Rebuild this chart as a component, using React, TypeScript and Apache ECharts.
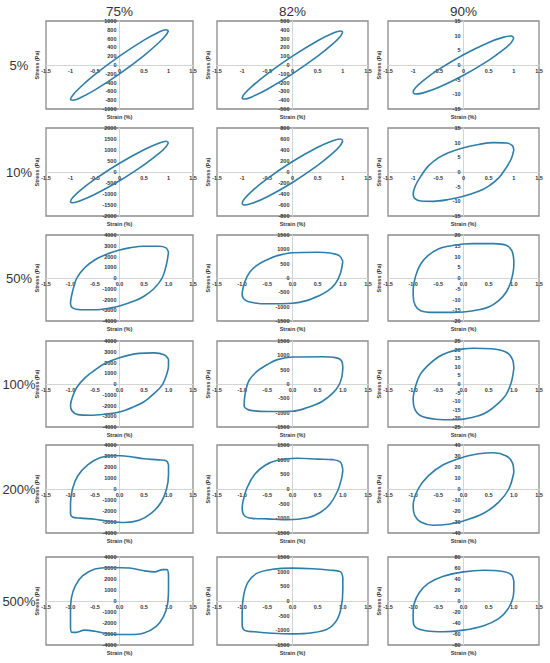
import React, { useEffect, useRef } from "react";
import * as echarts from "echarts";

// Column (solids %) and row (strain amplitude) labels
const colLabels = ["75%", "82%", "90%"];
const rowLabels = ["5%", "10%", "50%", "100%", "200%", "500%"];
const xTicksPlain = [true, true, false, false, false, false];

// y-axis ranges [max, step] per row, per column
const yMax75 = [1000, 2000, 4000, 4000, 4000, 4000];
const yStep75 = [200, 500, 1000, 1000, 1000, 1000];
const yMax82 = [500, 800, 1500, 1500, 1500, 1500];
const yStep82 = [100, 200, 500, 500, 500, 500];
const yMax90 = [15, 15, 20, 25, 40, 80];
const yStep90 = [5, 5, 5, 5, 10, 20];

// Lissajous loops [strain %, stress Pa]
const loop75_5 = [[1.0,780],[0.95,800],[0.8,745],[0.5,565],[0,200],[-0.5,-215],[-0.8,-505],[-0.95,-680],[-1.0,-780],[-0.95,-800],[-0.8,-745],[-0.5,-565],[0,-200],[0.5,215],[0.8,505],[0.95,680],[1.0,780]];
const loop82_5 = [[1.0,375],[0.95,387],[0.8,360],[0.5,275],[0,100],[-0.5,-100],[-0.8,-240],[-0.95,-325],[-1.0,-375],[-0.95,-387],[-0.8,-360],[-0.5,-275],[0,-100],[0.5,100],[0.8,240],[0.95,325],[1.0,375]];
const loop90_5 = [[1.0,9.2],[0.95,9.9],[0.8,9.5],[0.5,7.7],[0,3.5],[-0.5,-1.6],[-0.8,-5.3],[-0.95,-7.7],[-1.0,-9.2],[-0.95,-9.9],[-0.8,-9.5],[-0.5,-7.7],[0,-3.5],[0.5,1.6],[0.8,5.3],[0.95,7.7],[1.0,9.2]];

const loop75_10 = [[1.0,1340],[0.95,1400],[0.8,1310],[0.5,1015],[0,400],[-0.5,-325],[-0.8,-830],[-0.95,-1150],[-1.0,-1340],[-0.95,-1400],[-0.8,-1310],[-0.5,-1015],[0,-400],[0.5,325],[0.8,830],[0.95,1150],[1.0,1340]];
const loop82_10 = [[1.0,570],[0.95,600],[0.8,570],[0.5,450],[0,190],[-0.5,-120],[-0.8,-342],[-0.95,-482],[-1.0,-570],[-0.95,-600],[-0.8,-570],[-0.5,-450],[0,-190],[0.5,120],[0.8,342],[0.95,482],[1.0,570]];
const loop90_10 = [[1.0,7.5],[0.97,9.0],[0.85,9.9],[0.6,10.0],[0.3,9.4],[0,8.3],[-0.3,6.6],[-0.5,4.8],[-0.7,2.0],[-0.85,-1.5],[-0.95,-4.5],[-1.0,-7.5],[-0.97,-9.0],[-0.85,-9.9],[-0.6,-10.0],[-0.3,-9.4],[0,-8.3],[0.3,-6.6],[0.5,-4.8],[0.7,-2.0],[0.85,1.5],[0.95,4.5],[1.0,7.5]];

const loop75_50 = [[1.0,2400],[0.95,2800],[0.8,2950],[0.5,2950],[0.2,2800],[0,2600],[-0.3,2150],[-0.5,1700],[-0.7,1000],[-0.87,0],[-0.96,-1300],[-1.0,-2400],[-0.95,-2800],[-0.8,-2950],[-0.5,-2950],[-0.2,-2800],[0,-2600],[0.3,-2150],[0.5,-1700],[0.7,-1000],[0.87,0],[0.96,1300],[1.0,2400]];
const loop82_50 = [[1.0,580],[0.93,780],[0.75,870],[0.5,900],[0,880],[-0.3,780],[-0.5,640],[-0.7,450],[-0.85,200],[-0.95,-150],[-1.0,-580],[-0.93,-780],[-0.75,-870],[-0.5,-900],[0,-880],[0.3,-780],[0.5,-640],[0.7,-450],[0.85,-200],[0.95,150],[1.0,580]];
const loop90_50 = [[1.0,8],[0.96,12.7],[0.85,15.2],[0.6,16],[0.2,16],[0,15.8],[-0.3,14.8],[-0.5,13.5],[-0.7,10.5],[-0.85,6.5],[-0.95,1],[-1.0,-6],[-1.0,-8],[-0.96,-12.7],[-0.85,-15.2],[-0.6,-16],[-0.2,-16],[0,-15.8],[0.3,-14.8],[0.5,-13.5],[0.7,-10.5],[0.85,-6.5],[0.95,-1],[1.0,6],[1.0,8]];

const loop75_100 = [[1.0,2300],[0.92,2700],[0.7,2900],[0.4,2850],[0,2450],[-0.3,1900],[-0.5,1300],[-0.7,600],[-0.87,-300],[-0.96,-1200],[-1.0,-2000],[-0.97,-2500],[-0.85,-2850],[-0.6,-2900],[-0.3,-2800],[0,-2600],[0.3,-2100],[0.5,-1650],[0.7,-900],[0.87,-100],[0.97,1000],[1.0,1700],[1.0,2300]];
const loop82_100 = [[1.0,550],[0.97,820],[0.85,920],[0.6,950],[0,940],[-0.3,850],[-0.5,680],[-0.7,450],[-0.87,100],[-0.95,-450],[-0.96,-780],[-0.9,-880],[-0.8,-930],[-0.5,-960],[0,-950],[0.3,-820],[0.58,-620],[0.8,-320],[0.92,-50],[0.98,250],[1.0,550]];
const loop90_100 = [[1.0,9],[0.97,14.5],[0.85,18.5],[0.55,20.5],[0.2,20.8],[0,20.4],[-0.3,18.5],[-0.5,15.7],[-0.7,11],[-0.85,6],[-0.95,-1],[-1.0,-9],[-0.97,-14.5],[-0.85,-18.5],[-0.55,-20.5],[-0.2,-20.8],[0,-20.4],[0.3,-18.5],[0.5,-15.7],[0.7,-11],[0.85,-6],[0.95,1],[1.0,9]];

const loop75_200 = [[1.0,2200],[0.96,2550],[0.8,2650],[0.5,2750],[0.2,2950],[-0.1,3050],[-0.4,2850],[-0.65,2200],[-0.85,1200],[-0.96,0],[-1.0,-1300],[-1.0,-2200],[-0.96,-2550],[-0.8,-2650],[-0.5,-2750],[-0.2,-2950],[0.1,-3050],[0.4,-2850],[0.65,-2200],[0.85,-1200],[0.96,0],[1.0,1300],[1.0,2200]];
const loop82_200 = [[1.0,650],[0.95,920],[0.8,1000],[0.5,1020],[0.1,1050],[-0.3,980],[-0.55,800],[-0.75,500],[-0.9,50],[-0.98,-400],[-1.0,-650],[-0.95,-920],[-0.8,-1000],[-0.5,-1020],[-0.1,-1050],[0.3,-980],[0.55,-800],[0.75,-500],[0.9,-50],[0.98,400],[1.0,650]];
const loop90_200 = [[1.0,15],[0.97,24],[0.85,30],[0.6,33],[0.3,32],[0,29],[-0.4,22],[-0.7,12],[-0.9,0],[-1.0,-15],[-0.97,-24],[-0.85,-30],[-0.6,-33],[-0.3,-32],[0,-29],[0.4,-22],[0.7,-12],[0.9,0],[1.0,15]];

const loop75_500 = [[1.0,2300],[0.97,2850],[0.88,2850],[0.72,2650],[0.5,2750],[0.2,3000],[-0.2,3050],[-0.5,2900],[-0.75,2300],[-0.9,1400],[-0.98,300],[-1.0,-1200],[-1.0,-2300],[-0.97,-2850],[-0.88,-2850],[-0.72,-2650],[-0.5,-2750],[-0.2,-3000],[0.2,-3050],[0.5,-2900],[0.75,-2300],[0.9,-1400],[0.98,-300],[1.0,1200],[1.0,2300]];
const loop82_500 = [[1.0,800],[0.95,1000],[0.75,1050],[0.4,1100],[0,1120],[-0.4,1080],[-0.7,950],[-0.88,650],[-0.97,200],[-1.0,-400],[-1.0,-800],[-0.95,-1000],[-0.75,-1050],[-0.4,-1100],[0,-1120],[0.4,-1080],[0.7,-950],[0.88,-650],[0.97,-200],[1.0,400],[1.0,800]];
const loop90_500 = [[1.0,35],[0.95,48],[0.75,54],[0.4,56],[0,53],[-0.4,45],[-0.7,32],[-0.88,15],[-0.98,-5],[-1.0,-25],[-1.0,-35],[-0.95,-48],[-0.75,-54],[-0.4,-56],[0,-53],[0.4,-45],[0.7,-32],[0.88,-15],[0.98,5],[1.0,25],[1.0,35]];

const loops75 = [loop75_5, loop75_10, loop75_50, loop75_100, loop75_200, loop75_500];
const loops82 = [loop82_5, loop82_10, loop82_50, loop82_100, loop82_200, loop82_500];
const loops90 = [loop90_5, loop90_10, loop90_50, loop90_100, loop90_200, loop90_500];

// layout
const COL_LEFT = [46, 217, 388];
const COL_W = [147, 151, 151];
const ROW_TOP = [21, 128, 235, 341, 445, 557];
const ROW_H = [88, 88, 86, 86, 88, 88];
const LINE_COLOR = "#2f7ea8";
const TXT = "#333333";
const FONT = "Liberation Sans";

export default function App() {
  const ref = useRef<HTMLDivElement>(null);
  useEffect(() => {
    if (!ref.current) return;
    const chart = echarts.init(ref.current, null, { renderer: "svg" });
    const grids: any[] = [];
    const xAxes: any[] = [];
    const yAxes: any[] = [];
    const series: any[] = [];
    const graphics: any[] = [];
    const cols = [
      { loops: loops75, yMax: yMax75, yStep: yStep75 },
      { loops: loops82, yMax: yMax82, yStep: yStep82 },
      { loops: loops90, yMax: yMax90, yStep: yStep90 },
    ];
    let idx = 0;
    for (let r = 0; r < 6; r++) {
      for (let c = 0; c < 3; c++) {
        const col = cols[c];
        const left = COL_LEFT[c];
        const top = ROW_TOP[r];
        const w = COL_W[c];
        const h = ROW_H[r];
        grids.push({
          left, top, width: w, height: h, show: true,
          borderColor: "#8c8c8c", borderWidth: 1.3, backgroundColor: "transparent",
        });
        const plain = xTicksPlain[r];
        xAxes.push({
          gridIndex: idx, type: "value", min: -1.5, max: 1.5, interval: 0.5,
          position: "bottom", offset: -h / 2,
          axisLine: { show: true, onZero: false, lineStyle: { color: "#d4d4d4", width: 1 } },
          axisTick: { show: false }, splitLine: { show: false },
          axisLabel: {
            fontSize: 5.5, fontWeight: "bold", color: TXT, margin: 3, fontFamily: FONT,
            showMinLabel: true, showMaxLabel: true,
            formatter: (v: number) => (plain ? String(v) : v.toFixed(1)),
          },
        });
        const ym = col.yMax[r];
        yAxes.push({
          gridIndex: idx, type: "value", min: -ym, max: ym, interval: col.yStep[r],
          position: "left", offset: -w / 2,
          axisLine: { show: true, onZero: false, lineStyle: { color: "#d4d4d4", width: 1 } },
          axisTick: { show: false }, splitLine: { show: false },
          axisLabel: {
            fontSize: 5.5, fontWeight: "bold", color: TXT, margin: 3, fontFamily: FONT,
            showMinLabel: true, showMaxLabel: true,
            formatter: (v: number) => String(v),
          },
        });
        series.push({
          type: "line", xAxisIndex: idx, yAxisIndex: idx, data: col.loops[r],
          showSymbol: false, smooth: 0.35,
          lineStyle: { color: LINE_COLOR, width: 1.6 },
        });
        graphics.push({
          type: "text", x: left + w / 2, y: top + h + 8,
          style: { text: "Strain (%)", fontSize: 5.5, fontWeight: "bold", fill: TXT, align: "center", verticalAlign: "middle", fontFamily: FONT },
        });
        graphics.push({
          type: "text", x: left - 9, y: top + h / 2, rotation: Math.PI / 2,
          style: { text: "Stress (Pa)", fontSize: 5.5, fontWeight: "bold", fill: TXT, align: "center", verticalAlign: "middle", fontFamily: FONT },
        });
        idx++;
      }
    }
    colLabels.forEach((t, c) => {
      graphics.push({
        type: "text", x: COL_LEFT[c] + COL_W[c] / 2, y: 11,
        style: { text: t, fontSize: 13.5, fill: TXT, align: "center", verticalAlign: "middle", fontFamily: FONT },
      });
    });
    rowLabels.forEach((t, r) => {
      graphics.push({
        type: "text", x: 19, y: ROW_TOP[r] + ROW_H[r] / 2,
        style: { text: t, fontSize: 13, fill: TXT, align: "center", verticalAlign: "middle", fontFamily: FONT },
      });
    });
    chart.setOption({
      animation: false,
      backgroundColor: "#ffffff",
      grid: grids,
      xAxis: xAxes,
      yAxis: yAxes,
      series,
      graphic: graphics,
    });
    return () => chart.dispose();
  }, []);
  return <div ref={ref} style={{ position: "fixed", left: 0, top: 0, width: 550, height: 663 }} />;
}
